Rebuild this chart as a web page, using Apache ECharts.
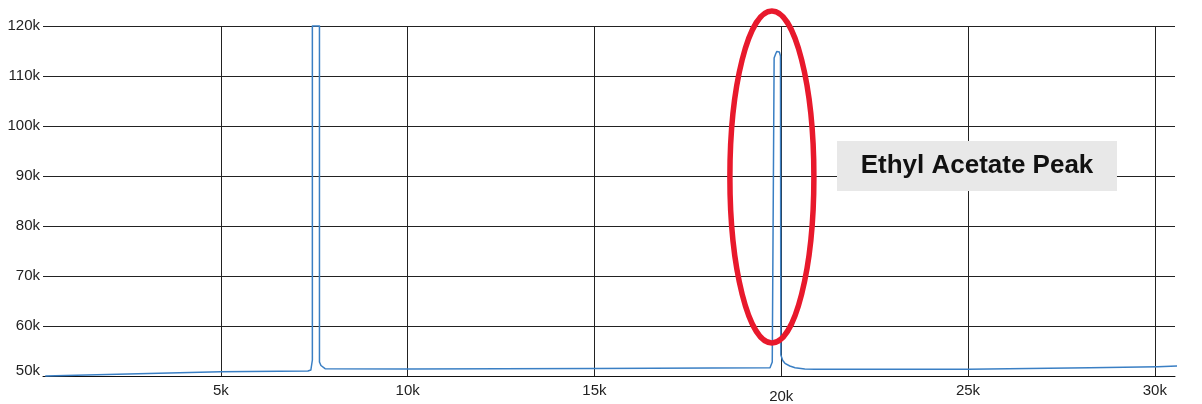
<!DOCTYPE html>
<html>
<head>
<meta charset="utf-8">
<script src="https://cdn.jsdelivr.net/npm/echarts@6/dist/echarts.min.js"></script>
<style>
  html, body { margin: 0; padding: 0; background: #fff; }
  #chart { width: 1202px; height: 404px; }
</style>
</head>
<body>
<div id="chart"></div>
<script>
// retention time (x) and detector signal (y)
var retentionTime = [300, 5000, 7330, 7410, 7450, 7450, 7640, 7640, 7680, 7790,
  10000, 15000, 19700, 19740, 19760, 19810, 19850, 19880, 19910, 19950,
  19980, 19990, 20040, 20100, 20230, 20370, 20630, 20900, 25000, 28260,
  30080, 31260];
var signal = [50000, 50850, 51000, 51200, 53200, 120000, 120000, 52800, 52100, 51460,
  51400, 51500, 51660, 52000, 52800, 113600, 114400, 114900, 115060, 114800,
  114000, 54200, 53100, 52540, 52000, 51660, 51400, 51340, 51360, 51660,
  51860, 52140];

var xTicks = [5000, 10000, 15000, 20000, 25000, 30000];
var yTicks = [50000, 60000, 70000, 80000, 90000, 100000, 110000, 120000];

var peakLabel = "Ethyl Acetate Peak";
var peakCenter = [19750, 89800];   // where the ellipse sits
var labelCenter = [25240, 92000];  // where the grey box sits

var font = "'Liberation Sans', Arial, Helvetica, sans-serif";

var myChart = echarts.init(document.getElementById("chart"));

var points = retentionTime.map(function (t, i) {
  return [t, signal[i]];
});

myChart.setOption({
  animation: false,
  grid: {
    left: 43,
    right: 27,
    top: 26,
    bottom: 28,
    outerBoundsMode: "none",
    containLabel: false
  },
  xAxis: {
    type: "value",
    min: 240,
    max: 30540,
    axisLine: {
      lineStyle: { color: "#111", width: 1 }
    },
    axisTick: {
      show: false,
      customValues: xTicks
    },
    axisLabel: {
      customValues: xTicks,
      color: "#222",
      fontSize: 15,
      fontFamily: font,
      margin: 7,
      lineHeight: 15,
      formatter: function (v) {
        // the 20k label sits a bit lower in the original
        if (v === 20000) return "{low|20k}";
        return v / 1000 + "k";
      },
      rich: {
        low: { fontSize: 15, fontFamily: font, color: "#222", lineHeight: 27 }
      }
    },
    splitLine: {
      show: true,
      customValues: xTicks,
      lineStyle: { color: "#222", width: 1 }
    }
  },
  yAxis: {
    type: "value",
    min: 50000,
    max: 120000,
    interval: 10000,
    axisLine: { show: false },
    axisTick: { show: false },
    axisLabel: {
      color: "#222",
      fontSize: 15,
      fontFamily: font,
      margin: 3,
      formatter: function (v) {
        if (v === 50000) return "{up|50k}";
        return v / 1000 + "k";
      },
      rich: {
        up: { fontSize: 15, fontFamily: font, color: "#222", padding: [0, 0, 10, 0] }
      }
    },
    splitLine: {
      lineStyle: { color: "#222", width: 1 }
    }
  },
  series: [
    {
      type: "line",
      data: points,
      showSymbol: false,
      clip: false,
      lineStyle: {
        color: "#3a7fc4",
        width: 1.5,
        join: "round"
      }
    }
  ]
});

// annotations anchored to data coordinates
var c = myChart.convertToPixel({ gridIndex: 0 }, peakCenter);
var b = myChart.convertToPixel({ gridIndex: 0 }, labelCenter);

myChart.setOption({
  graphic: [
    {
      type: "ellipse",
      z: 100,
      shape: { cx: c[0], cy: c[1], rx: 42, ry: 166 },
      style: { fill: "none", stroke: "#e8192c", lineWidth: 5.5 }
    },
    {
      type: "rect",
      z: 100,
      shape: { x: b[0] - 140, y: b[1] - 25, width: 280, height: 50 },
      style: { fill: "#e8e8e8" }
    },
    {
      type: "text",
      z: 101,
      x: b[0],
      y: b[1],
      style: {
        text: peakLabel,
        fill: "#111",
        font: "bold 26px " + font,
        align: "center",
        verticalAlign: "middle"
      }
    }
  ]
});
</script>
</body>
</html>
